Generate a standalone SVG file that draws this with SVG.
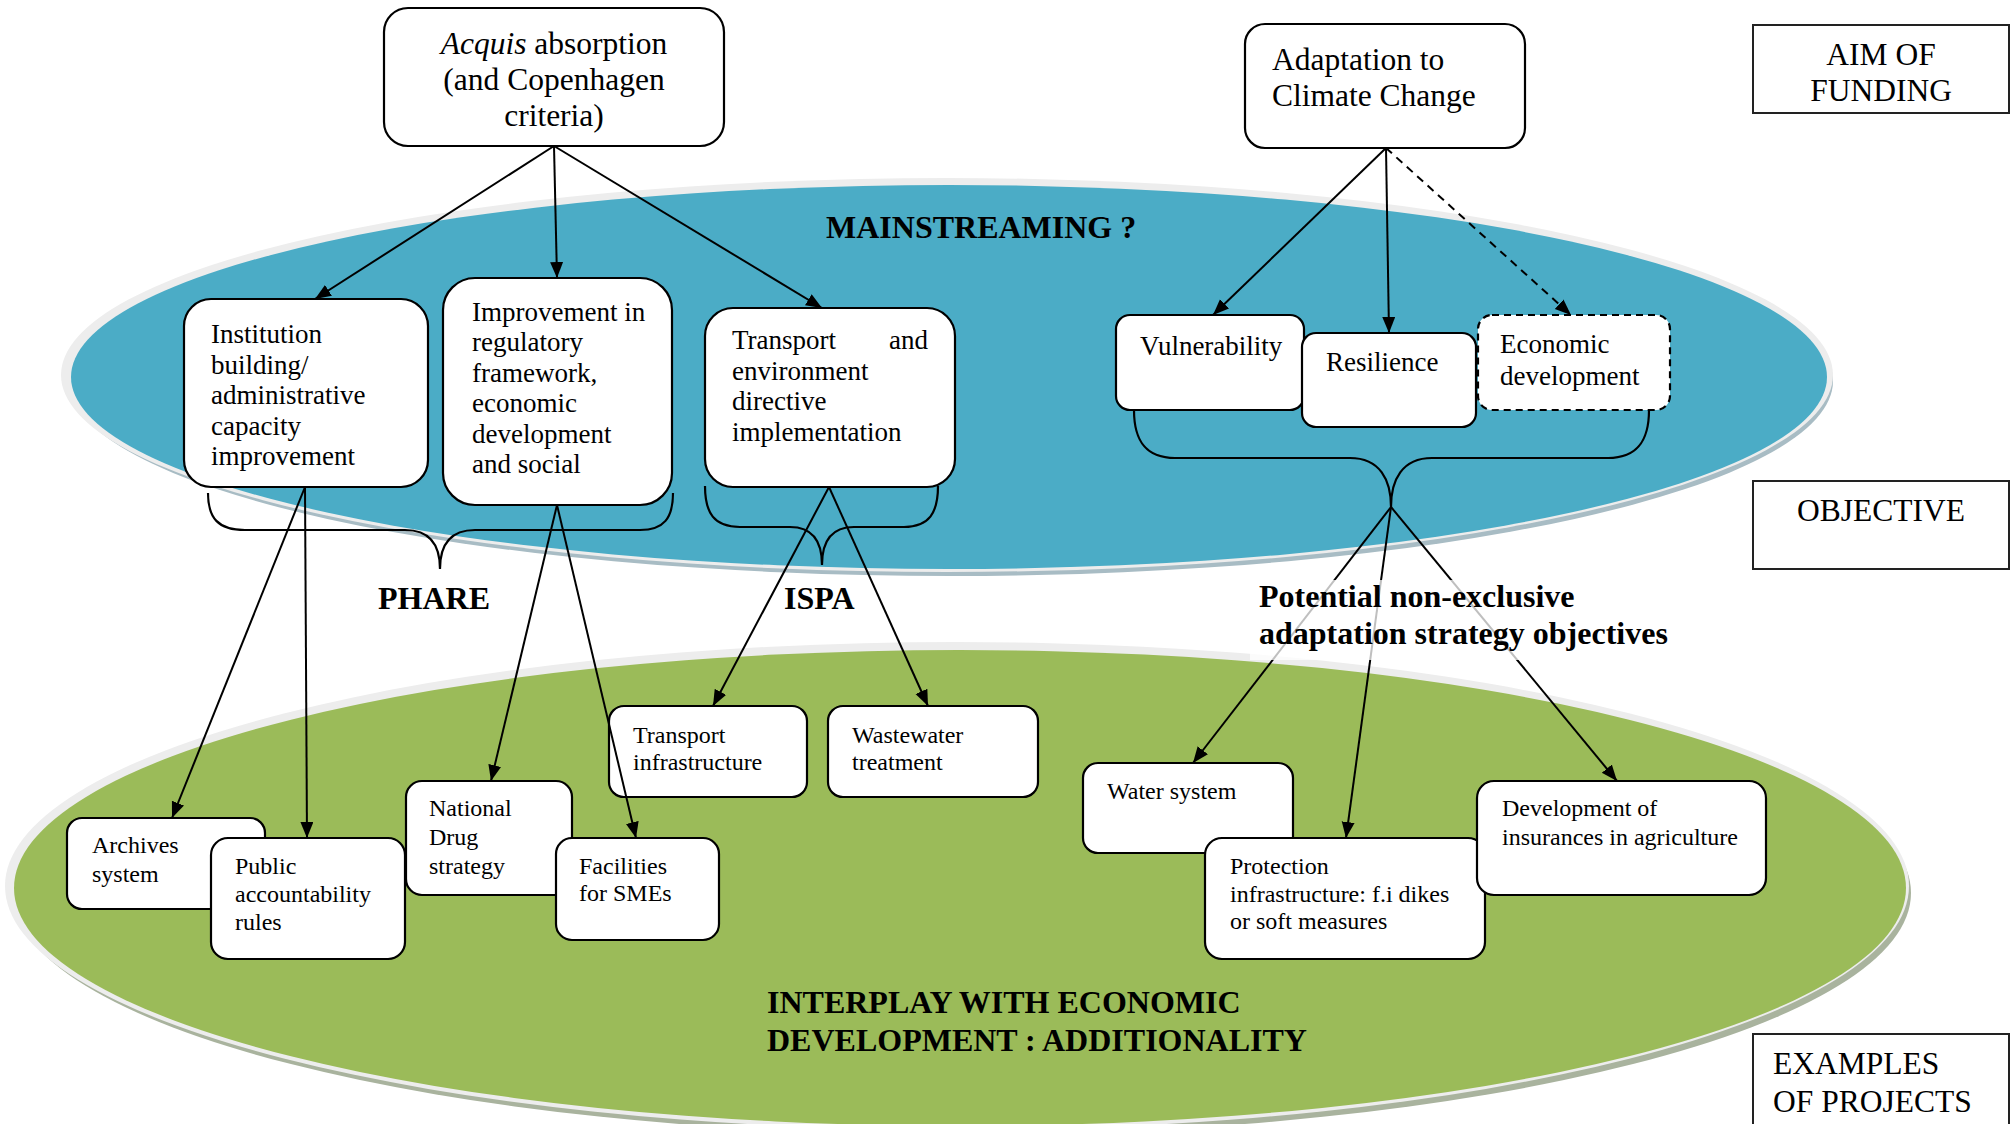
<svg xmlns="http://www.w3.org/2000/svg" width="2014" height="1124" viewBox="0 0 2014 1124">
<defs>
<marker id="arr" markerUnits="userSpaceOnUse" markerWidth="18" markerHeight="14" refX="16" refY="6.5" orient="auto">
<path d="M0,0 L16,6.5 L0,13 z" fill="#000"/>
</marker>
<style>
.box{fill:#fff;stroke:#000;stroke-width:2.2}
.dash{fill:#fff;stroke:#000;stroke-width:2.2;stroke-dasharray:7,5}
.lbl{fill:#fff;stroke:#222;stroke-width:2}
.t{font-family:"Liberation Serif","Times New Roman",serif;fill:#000}
.top{font-size:31.5px}
.obj{font-size:27px}
.prj{font-size:24px}
.b{font-family:"Liberation Serif","Times New Roman",serif;font-weight:bold;font-size:32px;fill:#000}
.ln{stroke:#000;stroke-width:2;fill:none}
.br{stroke:#000;stroke-width:2.2;fill:none}
</style>
</defs>
<rect width="2014" height="1124" fill="#fff"/>

<g id="green-ellipse">
<ellipse cx="962" cy="893" rx="949" ry="242" fill="#a9b39e"/>
<ellipse cx="957" cy="886" rx="952" ry="244" fill="#ededed"/>
<ellipse cx="960" cy="888" rx="946" ry="238" fill="#9bbb59"/>
</g>
<g id="blue-ellipse">
<ellipse cx="951" cy="381" rx="882" ry="195" fill="#a8bcc4"/>
<ellipse cx="947" cy="375" rx="886" ry="197" fill="#ededed"/>
<ellipse cx="949" cy="377" rx="878" ry="192" fill="#4bacc6"/>
</g>

<g id="aim-label">
<rect class="lbl" x="1753" y="25" width="256" height="88"/>
<text class="t top" x="1881" y="65" text-anchor="middle">AIM OF</text>
<text class="t top" x="1881" y="101" text-anchor="middle">FUNDING</text>
</g>
<g id="objective-label">
<rect class="lbl" x="1753" y="481" width="256" height="88"/>
<text class="t top" x="1881" y="521" text-anchor="middle">OBJECTIVE</text>
</g>
<g id="examples-label">
<rect class="lbl" x="1753" y="1034" width="256" height="100"/>
<text class="t top" x="1773" y="1074">EXAMPLES</text>
<text class="t top" x="1773" y="1112">OF PROJECTS</text>
</g>

<g id="acquis">
<rect class="box" x="384" y="8" width="340" height="138" rx="24"/>
<text class="t top" x="554" y="54" text-anchor="middle"><tspan font-style="italic">Acquis</tspan> absorption</text>
<text class="t top" x="554" y="90" text-anchor="middle">(and Copenhagen</text>
<text class="t top" x="554" y="126" text-anchor="middle">criteria)</text>
</g>
<g id="adaptation">
<rect class="box" x="1245" y="24" width="280" height="124" rx="20"/>
<text class="t top" x="1272" y="70">Adaptation to</text>
<text class="t top" x="1272" y="106">Climate Change</text>
</g>

<g id="institution">
<rect class="box" x="184" y="299" width="244" height="188" rx="27"/>
<text class="t obj" x="211" y="343">Institution</text>
<text class="t obj" x="211" y="374">building/</text>
<text class="t obj" x="211" y="404">administrative</text>
<text class="t obj" x="211" y="435">capacity</text>
<text class="t obj" x="211" y="465">improvement</text>
</g>
<g id="improvement">
<rect class="box" x="443" y="278" width="229" height="227" rx="32"/>
<text class="t obj" x="472" y="321">Improvement in</text>
<text class="t obj" x="472" y="351">regulatory</text>
<text class="t obj" x="472" y="382">framework,</text>
<text class="t obj" x="472" y="412">economic</text>
<text class="t obj" x="472" y="443">development</text>
<text class="t obj" x="472" y="473">and social</text>
</g>
<g id="transport-env">
<rect class="box" x="705" y="308" width="250" height="179" rx="28"/>
<text class="t obj" x="732" y="349">Transport</text>
<text class="t obj" x="928" y="349" text-anchor="end">and</text>
<text class="t obj" x="732" y="380">environment</text>
<text class="t obj" x="732" y="410">directive</text>
<text class="t obj" x="732" y="441">implementation</text>
</g>

<g id="vulnerability">
<rect class="box" x="1116" y="315" width="188" height="95" rx="14"/>
<text class="t obj" x="1140" y="355">Vulnerability</text>
</g>
<g id="resilience">
<rect class="box" x="1302" y="333" width="174" height="94" rx="14"/>
<text class="t obj" x="1326" y="371">Resilience</text>
</g>
<g id="economic-development">
<rect class="dash" x="1478" y="315" width="192" height="95" rx="14"/>
<text class="t obj" x="1500" y="353">Economic</text>
<text class="t obj" x="1500" y="385">development</text>
</g>

<g id="braces">
<path class="br" d="M208,493 C208,518 218,530 245,530 L405,530 C430,530 440,545 440,569 C440,545 450,530 475,530 L640,530 C664,530 673,518 673,493"/>
<path class="br" d="M705,486 C705,513 714,527 740,527 L790,527 C814,527 822,543 822,565 C822,543 830,527 854,527 L904,527 C929,527 938,513 938,486"/>
<path class="br" d="M1134,410 C1134,440 1145,458 1175,458 L1350,458 C1380,458 1391,480 1391,507 C1391,480 1402,458 1432,458 L1608,458 C1638,458 1649,440 1649,410"/>
</g>

<g id="archives">
<rect class="box" x="67" y="818" width="198" height="91" rx="15"/>
<text class="t prj" x="92" y="853">Archives</text>
<text class="t prj" x="92" y="882">system</text>
</g>
<g id="public-accountability">
<rect class="box" x="211" y="838" width="194" height="121" rx="17"/>
<text class="t prj" x="235" y="874">Public</text>
<text class="t prj" x="235" y="902">accountability</text>
<text class="t prj" x="235" y="930">rules</text>
</g>
<g id="national-drug">
<rect class="box" x="406" y="781" width="166" height="114" rx="16"/>
<text class="t prj" x="429" y="816">National</text>
<text class="t prj" x="429" y="845">Drug</text>
<text class="t prj" x="429" y="874">strategy</text>
</g>
<g id="facilities">
<rect class="box" x="556" y="838" width="163" height="102" rx="16"/>
<text class="t prj" x="579" y="874">Facilities</text>
<text class="t prj" x="579" y="901">for SMEs</text>
</g>
<g id="transport-infra">
<rect class="box" x="609" y="706" width="198" height="91" rx="15"/>
<text class="t prj" x="633" y="743">Transport</text>
<text class="t prj" x="633" y="770">infrastructure</text>
</g>
<g id="wastewater">
<rect class="box" x="828" y="706" width="210" height="91" rx="15"/>
<text class="t prj" x="852" y="743">Wastewater</text>
<text class="t prj" x="852" y="770">treatment</text>
</g>
<g id="water-system">
<rect class="box" x="1083" y="763" width="210" height="90" rx="15"/>
<text class="t prj" x="1107" y="799">Water system</text>
</g>
<g id="protection">
<rect class="box" x="1205" y="838" width="280" height="121" rx="17"/>
<text class="t prj" x="1230" y="874">Protection</text>
<text class="t prj" x="1230" y="902">infrastructure: f.i dikes</text>
<text class="t prj" x="1230" y="929">or soft measures</text>
</g>
<g id="insurances">
<rect class="box" x="1477" y="781" width="289" height="114" rx="17"/>
<text class="t prj" x="1502" y="816">Development of</text>
<text class="t prj" x="1502" y="845">insurances in agriculture</text>
</g>

<g id="connectors">
<line class="ln" x1="554" y1="146" x2="315" y2="299" marker-end="url(#arr)"/>
<line class="ln" x1="554" y1="146" x2="557" y2="278" marker-end="url(#arr)"/>
<line class="ln" x1="554" y1="146" x2="822" y2="308" marker-end="url(#arr)"/>
<line class="ln" x1="1386" y1="148" x2="1213" y2="315" marker-end="url(#arr)"/>
<line class="ln" x1="1386" y1="148" x2="1389" y2="333" marker-end="url(#arr)"/>
<line class="ln" x1="1386" y1="148" x2="1571" y2="315" stroke-dasharray="8,6" marker-end="url(#arr)"/>
<line class="ln" x1="305" y1="487" x2="172" y2="818" marker-end="url(#arr)"/>
<line class="ln" x1="305" y1="487" x2="307" y2="838" marker-end="url(#arr)"/>
<line class="ln" x1="557" y1="505" x2="491" y2="781" marker-end="url(#arr)"/>
<line class="ln" x1="557" y1="505" x2="636" y2="838" marker-end="url(#arr)"/>
<line class="ln" x1="829" y1="487" x2="713" y2="706" marker-end="url(#arr)"/>
<line class="ln" x1="829" y1="487" x2="928" y2="706" marker-end="url(#arr)"/>
<line class="ln" x1="1391" y1="507" x2="1193" y2="763" marker-end="url(#arr)"/>
<line class="ln" x1="1391" y1="507" x2="1346" y2="838" marker-end="url(#arr)"/>
<line class="ln" x1="1391" y1="507" x2="1617" y2="781" marker-end="url(#arr)"/>
</g>

<g id="labels">
<text class="b" x="826" y="238">MAINSTREAMING ?</text>
<text class="b" x="378" y="609">PHARE</text>
<text class="b" x="784" y="609">ISPA</text>
<rect x="1250" y="580" width="430" height="80" fill="#fff" fill-opacity="0.75"/>
<text class="b" x="1259" y="607">Potential non-exclusive</text>
<text class="b" x="1259" y="644">adaptation strategy objectives</text>
<text class="b" x="767" y="1013">INTERPLAY WITH ECONOMIC</text>
<text class="b" x="767" y="1051">DEVELOPMENT : ADDITIONALITY</text>
</g>
</svg>
